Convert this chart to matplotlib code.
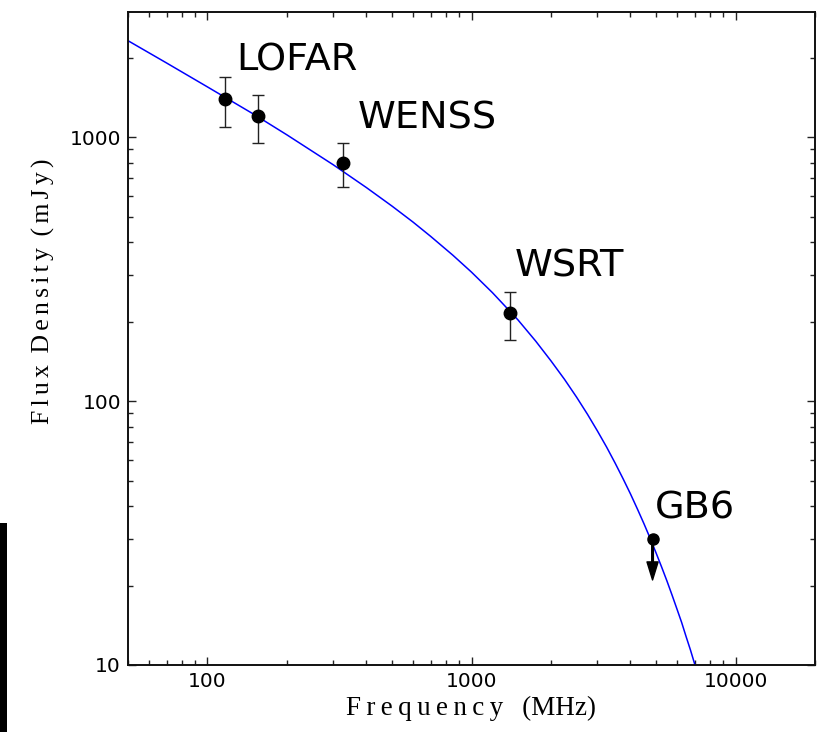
import matplotlib
matplotlib.use('Agg')
import matplotlib.pyplot as plt
from matplotlib.patches import Rectangle
from matplotlib.ticker import FixedLocator, NullFormatter, LogLocator

# measured points (MHz, mJy)
freq = [117, 155, 325, 1400]
flux = [1390, 1200, 800, 215]
flux_err = [300, 250, 150, 45]

# upper limit
lim_freq = 4850
lim_flux = 30

# model curve
model_freq = [50, 70, 100, 150, 200, 300, 400, 500, 600, 700, 850, 1000, 1200, 1500,
              1750, 2000, 2250, 2500, 2750, 3000, 3250, 3500, 3750, 4000, 4250, 4500,
              4750, 5000, 5250, 5500, 5750, 6000, 6250, 6500, 6750, 7000, 7250, 7500]
model_flux = [2320, 1910, 1550, 1220, 1020, 785, 644, 548, 477, 421, 357, 308, 257.6, 203,
              168.8, 142, 120.9, 103.5, 89.1, 77.0, 66.9, 58.2, 50.8, 44.5, 39.0, 34.3,
              30.2, 26.6, 23.5, 20.8, 18.4, 16.3, 14.5, 12.8, 11.4, 10.1, 9.0, 8.0]

fig = plt.figure(figsize=(8.27, 7.32), dpi=100)
ax = fig.add_axes([128/827, 1-665/732, (815-128)/827, (665-12)/732])

ax.plot(model_freq, model_flux, color='#0000ff', lw=1.1, zorder=2)
ax.errorbar(freq, flux, yerr=flux_err, fmt='o', color='k', ms=9, ecolor='#222222',
            elinewidth=1.0, capsize=4, capthick=1.0, zorder=3)
ax.plot([lim_freq], [lim_flux], 'o', color='k', ms=8, zorder=3)
ax.annotate('', xy=(lim_freq, 21), xytext=(lim_freq, lim_flux),
            arrowprops=dict(facecolor='k', edgecolor='k', width=1.2, headwidth=8,
                            headlength=13, shrink=0), zorder=3)

ax.set_xscale('log')
ax.set_yscale('log')
ax.set_xlim(50, 20000)
ax.set_ylim(10, 2980)

ax.xaxis.set_major_locator(FixedLocator([100, 1000, 10000]))
ax.yaxis.set_major_locator(FixedLocator([10, 100, 1000]))
ax.set_xticklabels(['100', '1000', '10000'])
ax.set_yticklabels(['10', '100', '1000'])
ax.xaxis.set_minor_locator(LogLocator(base=10, subs=range(2, 10)))
ax.yaxis.set_minor_locator(LogLocator(base=10, subs=range(2, 10)))
ax.xaxis.set_minor_formatter(NullFormatter())
ax.yaxis.set_minor_formatter(NullFormatter())

ax.tick_params(which='both', direction='in', top=True, right=True, labelsize=14.5,
               width=1.0, color='#222222')
ax.tick_params(which='major', length=6, pad=5)
ax.tick_params(which='minor', length=3.5)
for s in ax.spines.values():
    s.set_linewidth(1.4)
    s.set_color('#111111')

serif = ['Liberation Serif', 'DejaVu Serif']
sp = '\u2006'
gap = ' \u2009'
ax.set_xlabel('F\u2009r\u2009e\u2009q\u2009u\u2009e\u2009n\u2009c\u2009y  \u2009(MHz)',
              family=serif, size=19.5)
ax.set_ylabel(sp.join('Flux') + gap + sp.join('Density') + gap + sp.join('(mJy)'),
              family=serif, size=18.5)
ax.xaxis.set_label_coords(0.5, -0.047)
ax.yaxis.set_label_coords(-0.106, 0.573)

# source labels
ax.text(128, 1795, 'LOFAR', fontsize=27.5, va='baseline')
ax.text(370, 1081, 'WENSS', fontsize=27.5, va='baseline')
ax.text(1455, 297.6, 'WSRT', fontsize=27.5, va='baseline')
ax.text(4950, 36.0, 'GB6', fontsize=27.5, va='baseline')

# dark strip at the left edge of the picture
fig.patches.append(Rectangle((0, 0), 7/827, (732-523)/732, transform=fig.transFigure,
                             facecolor='k', edgecolor='none'))

fig.savefig('out.png', dpi=100)
